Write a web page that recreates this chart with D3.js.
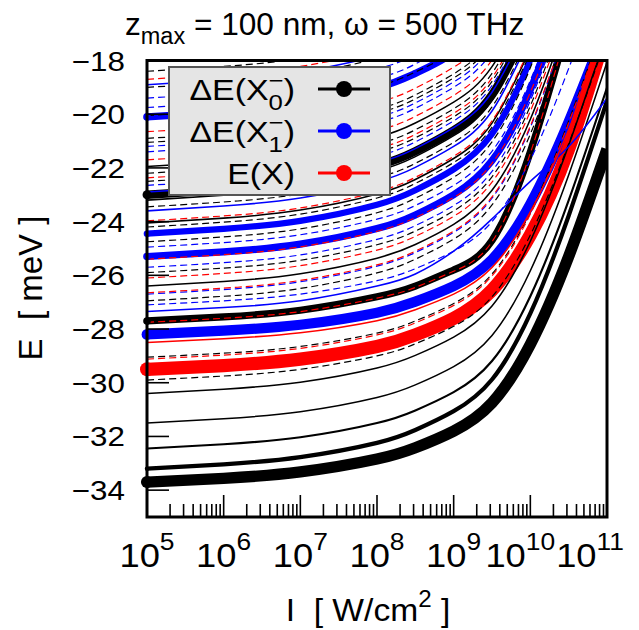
<!DOCTYPE html>
<html><head><meta charset="utf-8">
<script src="https://cdn.jsdelivr.net/npm/d3@7"></script>
<style>
body{margin:0;background:#fff}
svg{display:block}
text{font-family:"Liberation Sans",Arial,sans-serif;fill:#000;white-space:pre}
</style>
</head><body>
<svg id="c" width="639" height="630"></svg>
<script>
// ---------------- data ----------------
const logI = [5, 6, 7, 8, 8.5, 9, 9.5, 10, 10.5, 11];      // log10 of intensity grid
const yTicks = [-34, -32, -30, -28, -26, -24, -22, -20, -18];
const xExps = [5, 6, 7, 8, 9, 10, 11];

// ΔE(X0-)  (black)
const x0Curves = [
  [-18.4, -18.22, -17.92, -17.32],
  [-19.0, -18.82, -18.52, -17.92, -17.38],
  [-20.05, -19.87, -19.57, -18.97, -18.43, -17.65, -16.33],
  [-20.9, -20.72, -20.42, -19.82, -19.28, -18.5, -17.18, -14.42],
  [-21.05, -20.87, -20.57, -19.97, -19.43, -18.65, -17.33, -14.57],
  [-21.95, -21.77, -21.47, -20.87, -20.33, -19.55, -18.23, -15.47],
  [-22.2, -22.02, -21.72, -21.12, -20.58, -19.8, -18.48, -15.72],
  [-22.5, -22.32, -22.02, -21.42, -20.88, -20.1, -18.78, -16.02],
  [-23.0, -22.82, -22.52, -21.92, -21.38, -20.6, -19.28, -16.52],
  [-23.2, -23.02, -22.72, -22.12, -21.58, -20.8, -19.48, -16.72],
  [-23.45, -23.27, -22.97, -22.37, -21.83, -21.05, -19.73, -16.97],
  [-24.05, -23.87, -23.57, -22.97, -22.43, -21.65, -20.33, -17.57],
  [-24.2, -24.02, -23.72, -23.12, -22.58, -21.8, -20.48, -17.72],
  [-24.75, -24.57, -24.27, -23.67, -23.13, -22.35, -21.03, -18.27, -14.19],
  [-25.9, -25.73, -25.44, -24.86, -24.35, -23.6, -22.33, -19.69, -15.78],
  [-26.4, -26.23, -25.94, -25.36, -24.85, -24.1, -22.83, -20.19, -16.28],
  [-26.95, -26.78, -26.49, -25.91, -25.4, -24.65, -23.38, -20.74, -16.83],
  [-27.7, -27.55, -27.3, -26.8, -26.4, -25.8, -24.7, -21.4, -16.6],
  [-29.05, -28.9, -28.65, -28.15, -27.7, -27.05, -25.95, -23.65, -20.25, -16.25],
  [-29.9, -29.75, -29.5, -29.0, -28.55, -27.9, -26.8, -24.5, -21.1, -17.1],
  [-30.4, -30.24, -29.98, -29.45, -28.98, -28.3, -27.14, -24.73, -21.16, -16.96],
  [-31.5, -31.34, -31.08, -30.55, -30.08, -29.4, -28.24, -25.83, -22.26, -18.06],
  [-32.45, -32.29, -32.03, -31.5, -31.03, -30.35, -29.19, -26.78, -23.21, -19.01],
  [-33.2, -33.04, -32.77, -32.24, -31.76, -31.06, -29.88, -27.42, -23.78, -19.5],
  [-33.7, -33.56, -33.32, -32.84, -32.42, -31.8, -30.75, -28.57, -25.3, -21.3]
];
const x0Weight = [0, 0, 0, 0, 0, 0.03, 0, 0, 0.6, 0.03, 0, 0.03, 0, 0, 0, 0.03, 0, 0.5, 0, 0, 0.03, 0.03, 0.08, 0.25, 0.85];
const x0Kind   = ["d","d","d","d","d","s","d","d","s","s","d","s","d","d","d","s","d","s","d","d","s","s","s","s","s"];

// ΔE(X1-)  (blue)
const x1Curves = [
  [-18.9, -18.72, -18.42, -17.82, -17.28],
  [-19.4, -19.22, -18.92, -18.32, -17.78, -17.0],
  [-19.75, -19.57, -19.27, -18.67, -18.13, -17.35],
  [-20.1, -19.92, -19.62, -19.02, -18.48, -17.7, -16.38],
  [-21.2, -21.02, -20.72, -20.12, -19.58, -18.8, -17.48, -14.72],
  [-21.4, -21.22, -20.92, -20.32, -19.78, -19.0, -17.68, -14.92],
  [-22.65, -22.47, -22.17, -21.57, -21.03, -20.25, -18.93, -16.17],
  [-22.9, -22.72, -22.42, -21.82, -21.28, -20.5, -19.18, -16.42],
  [-23.6, -23.42, -23.12, -22.52, -21.98, -21.2, -19.88, -17.12],
  [-24.45, -24.27, -23.97, -23.37, -22.83, -22.05, -20.73, -17.97, -13.89],
  [-24.95, -24.78, -24.49, -23.91, -23.4, -22.65, -21.38, -18.74, -14.83],
  [-25.3, -25.13, -24.84, -24.26, -23.75, -23.0, -21.73, -19.09, -15.18],
  [-25.7, -25.53, -25.24, -24.66, -24.15, -23.4, -22.13, -19.49, -15.58],
  [-26.7, -26.53, -26.24, -25.66, -25.15, -24.4, -23.13, -20.49, -16.58],
  [-27.1, -26.95, -26.7, -26.2, -25.75, -25.1, -24.0, -21.7, -18.3, -14.3],
  [-27.35, -27.2, -26.95, -26.4, -25.95, -25.1, -23.9, -22.5, -21.2, -19.4],
  [-28.2, -28.06, -27.84, -27.39, -26.98, -26.4, -25.41, -23.34, -20.28, -16.68]
];
const x1Weight = [0.03, 0, 0, 0.5, 0, 0, 0, 0.03, 0.03, 0.42, 0, 0.5, 0, 0, 0, 0.03, 0.75];
const x1Kind   = ["s","d","d","s","d","d","d","s","s","s","d","s","d","d","d","s","s"];

// E(X)  (red)
const xCurves = [
  [-18.7, -18.52, -18.22, -17.62, -17.08],
  [-20.65, -20.47, -20.17, -19.57, -19.03, -18.25, -16.93, -14.17],
  [-21.7, -21.52, -21.22, -20.62, -20.08, -19.3, -17.98, -15.22],
  [-22.37, -22.19, -21.89, -21.29, -20.75, -19.97, -18.65, -15.89],
  [-23.97, -23.79, -23.49, -22.89, -22.35, -21.57, -20.25, -17.49],
  [-25.4, -25.23, -24.94, -24.36, -23.85, -23.1, -21.83, -19.19, -15.28],
  [-26.1, -25.93, -25.64, -25.06, -24.55, -23.8, -22.53, -19.89, -15.98],
  [-26.65, -26.48, -26.19, -25.61, -25.1, -24.35, -23.08, -20.44, -16.53],
  [-27.75, -27.6, -27.35, -26.85, -26.45, -25.85, -24.75, -21.45, -16.65],
  [-28.5, -28.36, -28.14, -27.69, -27.28, -26.7, -25.71, -23.64, -20.58, -16.98],
  [-29.12, -28.97, -28.72, -28.22, -27.77, -27.12, -26.02, -23.72, -20.32, -16.32],
  [-29.5, -29.36, -29.12, -28.65, -28.22, -27.6, -26.55, -24.5, -21.3, -16.8]
];
const xWeight = [0, 0, 0, 0, 0, 0, 0, 0, 0, 0.03, 0, 1.0];
const xKind   = ["d","d","d","d","d","d","d","d","d","s","d","s"];

const seriesMain = ["ΔE(X", "ΔE(X", "E(X)"];
const seriesSub = ["0", "1", null];
const seriesColors = ["#000000", "#0000ff", "#ff0000"];

// ---------------- layout ----------------
const svg = d3.select("#c");
const L = 147, R = 607, T = 60.5, B = 517;
const x = d3.scaleLog().domain([1e5, 1e11]).range([L, R]);
const y = d3.scaleLinear().domain([-35, -18]).range([B, T]);
const widthScale = d3.scaleLinear().domain([0, 1]).range([1.2, 13.2]);

svg.append("defs").append("clipPath").attr("id", "clip")
  .append("rect").attr("x", L).attr("y", T).attr("width", R - L).attr("height", B - T);

const line = d3.line()
  .x((d, i) => x(Math.pow(10, logI[i])))
  .y(d => y(d))
  .curve(d3.curveNatural);

const all = [];
[[x0Curves, x0Weight, x0Kind], [x1Curves, x1Weight, x1Kind], [xCurves, xWeight, xKind]]
  .forEach(([cs, ws, ks], s) => cs.forEach((c, i) => all.push({c, w: ws[i], k: ks[i], s})));

const thick = all.filter(d => d.w >= 0.2);
const thin = all.filter(d => d.w < 0.2);
const gLines = svg.append("g").attr("clip-path", "url(#clip)");
function drawLines(arr) {
  gLines.selectAll(null).data(arr).enter().append("path")
    .attr("d", d => line(d.c))
    .attr("fill", "none")
    .attr("stroke", d => seriesColors[d.s])
    .attr("stroke-width", d => widthScale(d.w))
    .attr("stroke-dasharray", d => d.k === "d" ? "7,4" : null);
}
drawLines(thick);
drawLines(thin);

// start points
svg.append("g").selectAll("circle").data(all.filter(d => d.w >= 0.05)).enter().append("circle")
  .attr("cx", x(1e5)).attr("cy", d => y(d.c[0]))
  .attr("r", d => widthScale(d.w) * 0.53)
  .attr("fill", d => seriesColors[d.s]);

// ticks
const gt = svg.append("g").attr("stroke", "#000").attr("stroke-width", 1.6);
yTicks.forEach(v => gt.append("line").attr("x1", L).attr("x2", L + 22).attr("y1", y(v)).attr("y2", y(v)));
xExps.forEach(e => {
  gt.append("line").attr("x1", x(Math.pow(10, e))).attr("x2", x(Math.pow(10, e))).attr("y1", B).attr("y2", B - 22);
  if (e < 11) for (let m = 2; m <= 9; m++) {
    const xv = x(m * Math.pow(10, e));
    gt.append("line").attr("x1", xv).attr("x2", xv).attr("y1", B).attr("y2", B - 13);
  }
});

// frame
svg.append("rect").attr("x", L).attr("y", T).attr("width", R - L).attr("height", B - T)
  .attr("fill", "none").attr("stroke", "#000").attr("stroke-width", 3);

// y tick labels
yTicks.forEach(v => {
  svg.append("text").attr("transform", `translate(125,${y(v) + 10}) scale(1.12,1)`)
    .attr("text-anchor", "end").attr("font-size", 28).text("\u2212" + Math.abs(v));
});
// x tick labels (centred on ticks, nudged left only where they would overflow / collide)
const XS = 1.1;
const xl = xExps.map(e => {
  const t = svg.append("text").attr("font-size", 33);
  t.append("tspan").text("10");
  t.append("tspan").attr("font-size", 24).attr("dy", -17).text(String(e));
  return {t, cx: x(Math.pow(10, e)), w: t.node().getComputedTextLength() * XS};
});
let limit = 624;
for (let i = xl.length - 1; i >= 0; i--) {
  const d = xl[i];
  d.cx = Math.min(d.cx, limit - d.w / 2);
  limit = d.cx - d.w / 2 - 1;
}
xl.forEach(d => d.t.attr("transform", `translate(${d.cx - d.w / 2},567) scale(${XS},1)`));

// axis titles
const xlab = svg.append("text").attr("transform", "translate(368,621) scale(1.05,1)")
  .attr("text-anchor", "middle").attr("font-size", 32);
xlab.append("tspan").text("I  [ W/cm");
xlab.append("tspan").attr("font-size", 23).attr("dy", -14).text("2");
xlab.append("tspan").attr("dy", 14).text(" ]");

svg.append("text").attr("transform", "translate(42,288) rotate(-90)")
  .attr("text-anchor", "middle").attr("font-size", 33).text("E  [ meV ]");

// title
const tt = svg.append("text").attr("transform", "translate(125,35) scale(1.02,1)").attr("font-size", 31);
tt.append("tspan").text("z");
tt.append("tspan").attr("font-size", 23).attr("dy", 9).text("max");
tt.append("tspan").attr("dy", -9).text(" = 100 nm, \u03c9 = 500 THz");

// legend
const LS = 1.17;
const lg = svg.append("g");
lg.append("rect").attr("x", 169).attr("y", 67).attr("width", 221).attr("height", 128)
  .attr("fill", "#e5e5e5").attr("stroke", "#555").attr("stroke-width", 2);
const rowsY = [89, 131, 173];
seriesMain.forEach((nm, i) => {
  const ly = rowsY[i];
  lg.append("line").attr("x1", 318).attr("x2", 370).attr("y1", ly).attr("y2", ly)
    .attr("stroke", seriesColors[i]).attr("stroke-width", 3);
  lg.append("circle").attr("cx", 344).attr("cy", ly).attr("r", 8).attr("fill", seriesColors[i]);
  const t = lg.append("text").attr("font-size", 29);
  t.append("tspan").text(nm);
  if (seriesSub[i] !== null) {
    const sup = t.append("tspan").attr("font-size", 22).attr("dy", -12).text("\u2212");
    const wSup = sup.node().getComputedTextLength();
    const sub = t.append("tspan").attr("font-size", 22).attr("dx", -wSup).attr("dy", 22).text(seriesSub[i]);
    const wSub = sub.node().getComputedTextLength();
    t.append("tspan").attr("dx", Math.max(0, wSup - wSub)).attr("dy", -10).text(")");
  }
  const bb = t.node().getBBox();
  const right = bb.x + bb.width;
  t.attr("transform", `translate(${295 - right * LS},${ly + 11}) scale(${LS},1)`);
});
</script>
</body></html>
